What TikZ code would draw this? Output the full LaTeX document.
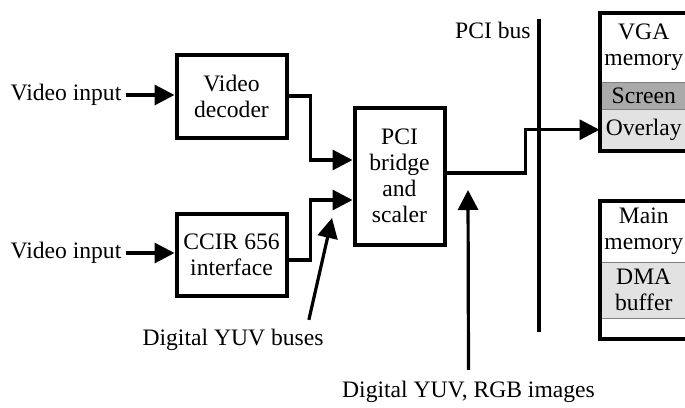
\documentclass[tikz,border=0pt]{standalone}
\usepackage{fontspec}
\setmainfont{Liberation Serif}
\usepackage{xcolor}
\usepackage{tikz}
\usetikzlibrary{arrows.meta, positioning, calc}
\definecolor{SC_GRAY}{HTML}{AAAAAA}
\definecolor{OV_GRAY}{HTML}{E2E2E2}
\tikzset{
  block/.style={
    rectangle, draw=black, line width=2pt,
    minimum width=55pt, minimum height=41.5pt,
    text centered, align=center, inner sep=2pt},
  memsec/.style={
    rectangle, draw=gray, line width=0.5pt,
    minimum width=44.25pt, outer sep=0pt,
    text centered, align=center, inner sep=1pt},
  memframe/.style={draw=black, line width=2pt},
  arr/.style={-{Triangle[length=10pt,width=10pt]}, line width=1.6pt},
  busline/.style={line width=1.6pt},
  lbl/.style={inner sep=2pt},
}

\begin{document}
\begin{tikzpicture}[x=0.5pt, y=-0.5pt, font=\fontsize{11.8}{13}\selectfont]

  \useasboundingbox (0,0) rectangle (685,407);

  \node[block] (dec) at (231.5,96) {Video\\decoder};
  \node[block, minimum height=41pt] (ccir) at (231.5,254.5) {CCIR 656\\interface};
  \node[block, minimum width=45pt, minimum height=68.5pt] (pci) at (399.5,176)
    {PCI\\bridge\\and\\scaler};

  \node[lbl] (in1) at (66,95) {Video input};
  \node[lbl] (in2) at (66,253) {Video input};

  \node[memsec, minimum height=34.75pt, anchor=north] (vgahead) at (643.75,12.5)
    {VGA\\memory};
  \node[memsec, minimum height=13.5pt, fill=SC_GRAY, below=0pt of vgahead] (screen)
    {Screen};
  \node[memsec, minimum height=20.75pt, fill=OV_GRAY, below=0pt of screen] (overlay)
    {Overlay};
  \draw[memframe] (vgahead.north west) rectangle (overlay.south east);

  \node[memsec, minimum height=30.75pt, anchor=north] (mainhead) at (643.75,200.5)
    {Main\\memory};
  \node[memsec, minimum height=28pt, fill=OV_GRAY, below=0pt of mainhead] (dma)
    {DMA\\buffer};
  \node[memsec, minimum height=10.25pt, below=0pt of dma] (spare) {};
  \draw[memframe] (mainhead.north west) rectangle (spare.south east);

  \coordinate (bustop) at (539,19);
  \coordinate (busbot) at (539,332);
  \draw[busline] (bustop) -- (busbot);
  \node[lbl, anchor=east] (buslbl) at (535,30) {PCI bus};

  \node[lbl] (yuvbus) at (233,340) {Digital YUV buses};
  \node[lbl] (rgbimg) at (468.5,392) {Digital YUV, RGB images};
  \coordinate (bustip) at (332,218);
  \coordinate (imgtip) at (468,190);

  \draw[arr] (in1.east) -- (in1.east -| dec.west);
  \draw[arr] (in2.east) -- (in2.east -| ccir.west);
  \draw[arr] (dec.east) -- ++(22,0) |- ($(pci.west)+(0,-16)$);
  \draw[arr] ($(ccir.east)+(0,5.5)$) -- ++(22,0) |- ($(pci.west)+(0,24)$);
  \draw[arr] ($(pci.east)+(0,-3)$) -- ++(79,0) |- (overlay.west);
  \draw[arr] ($(yuvbus.north east)+(-19,-5)$) -- (bustip);
  \draw[arr] ($(rgbimg.north)+(0,-7)$) -- (imgtip);

\end{tikzpicture}
\end{document}
